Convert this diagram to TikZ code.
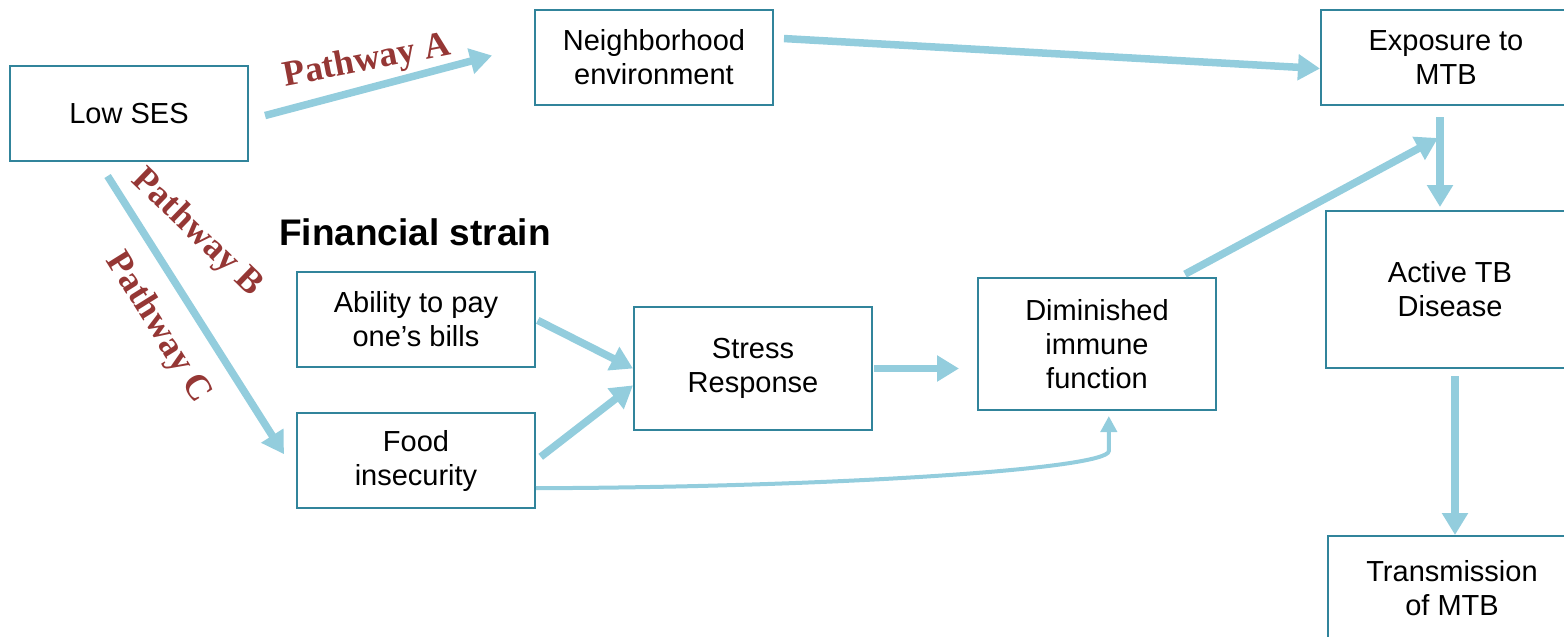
\documentclass[tikz,border=0pt]{standalone}
\usepackage{fontspec}
\setmainfont{Liberation Sans}
\newfontfamily\pathfont{Liberation Serif}
\usetikzlibrary{arrows.meta}
\definecolor{BoxTeal}{HTML}{31849B}
\definecolor{ArrowBlue}{HTML}{93CDDD}
\definecolor{PathRed}{HTML}{953735}
\tikzstyle{factorBox}=[draw=BoxTeal, line width=1pt, fill=white, minimum width=119pt, minimum height=47.5pt, align=center, inner sep=2pt, font={\fontsize{14.5}{17}\selectfont}]
\tikzstyle{pathArrow}=[-{Triangle[length=11pt,width=12.5pt]}, line width=3.75pt, draw=ArrowBlue]
\tikzstyle{thinArrow}=[-{Triangle[length=8pt,width=8pt]}, line width=2pt, draw=ArrowBlue]
\tikzstyle{pathLabel}=[text=PathRed, inner sep=0pt, font={\pathfont\bfseries\fontsize{18}{20}\selectfont}]

\begin{document}
\begin{tikzpicture}[x=0.5pt,y=-0.5pt]
\useasboundingbox (0,0) rectangle (1564,637);

    % Boxes
    \node[factorBox] (lowSES) at (129,113.5) {Low SES};
    \node[factorBox] (neighEnv) at (654,57) {Neighborhood\\environment};
    \node[factorBox, minimum width=125pt] (exposureMTB) at (1446,57.5) {Exposure to\\MTB};
    \node[factorBox, minimum width=124pt, minimum height=78.5pt] (activeTB) at (1450,289.5) {Active TB\\Disease};
    \node[factorBox, minimum width=124pt, minimum height=52pt] (transMTB) at (1452,588) {Transmission\\of MTB};

    \node[font={\bfseries\fontsize{18.5}{22}\selectfont}] (finStrain) at (415,232) {Financial strain};
    \node[factorBox] (payBills) at (416,319.5) {Ability to pay\\one’s bills};
    \node[factorBox] (foodInsec) at (416,460.5) {Food\\insecurity};
    \node[factorBox, minimum height=61.5pt] (stressResp) at (753,368.5) {Stress\\Response};
    \node[factorBox, minimum height=66pt] (immuneFn) at (1097,344) {Diminished\\immune\\function};

    % Pathways from low SES
    \draw[pathArrow, shorten <=8.3pt, shorten >=21.7pt] (lowSES.-3) -- (neighEnv.174);
    \draw[pathArrow, shorten <=5pt] (neighEnv.9) -- (exposureMTB.185);
    \draw[pathArrow, shorten <=8.3pt, shorten >=11.2pt] (lowSES.238) -- (foodInsec.186);

    % Financial strain
    \draw[pathArrow, shorten <=1pt] (payBills.east) -- (stressResp.west);
    \draw[pathArrow, shorten <=3pt] (foodInsec.east) -- (stressResp.188);
    \draw[pathArrow, shorten <=0.5pt, shorten >=9pt] (stressResp.east) -- (stressResp.east -| immuneFn.west);
    \draw[thinArrow] (foodInsec.347) .. controls +(300,-1) and +(0,18) .. ([yshift=-20pt]immuneFn.280) -- ([yshift=-2.5pt]immuneFn.280);

    % Towards disease
    \coordinate (meetPt) at (1438,138);
    \draw[pathArrow, shorten <=3pt] (immuneFn.39) -- (meetPt);
    \draw[pathArrow, shorten <=5.5pt, shorten >=1.5pt] ([xshift=-3pt]exposureMTB.south) -- ([xshift=-3pt]exposureMTB.south |- activeTB.north);
    \draw[pathArrow, shorten <=3.5pt] ([xshift=2.5pt]activeTB.south) -- ([xshift=2.5pt]activeTB.south |- transMTB.north);

    % Pathway labels
    \node[pathLabel, rotate=11] (labelA) at (367,62) {Pathway A};
    \node[pathLabel, rotate=-44] (labelB) at (197,233) {Pathway B};
    \node[pathLabel, rotate=-58] (labelC) at (158,328) {Pathway C};

\end{tikzpicture}
\end{document}
